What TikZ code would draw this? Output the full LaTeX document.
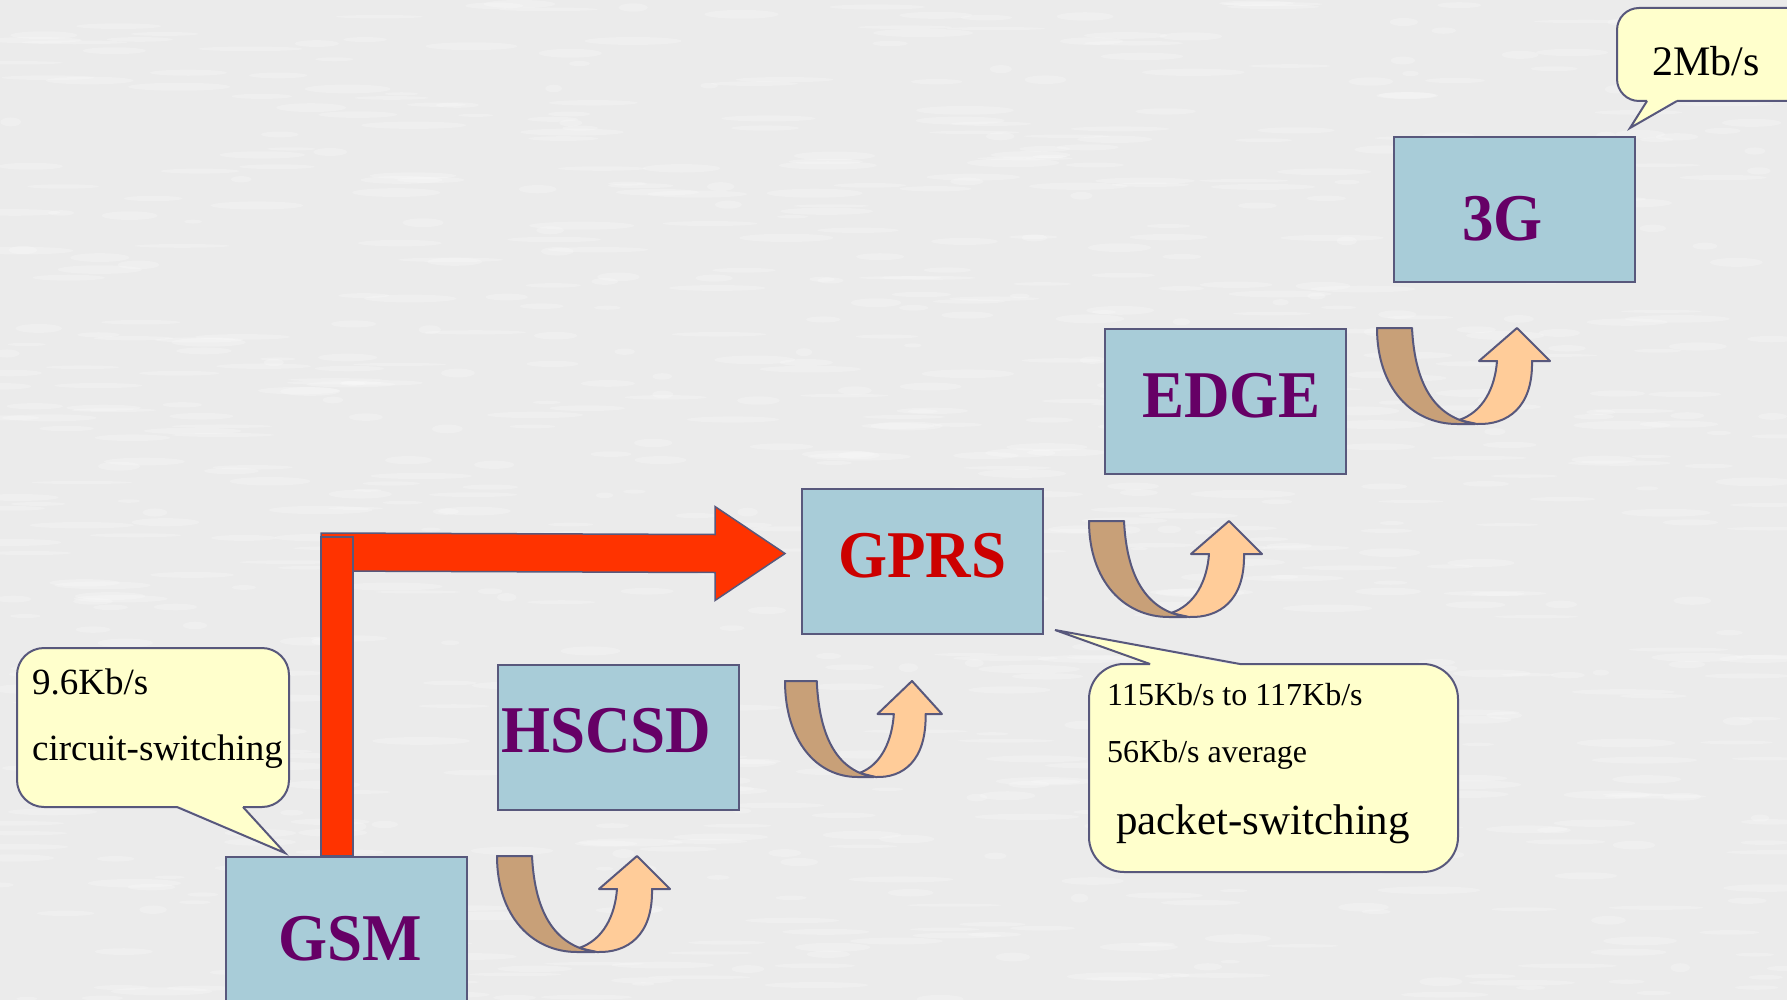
\documentclass[tikz,border=0pt]{standalone}
\usepackage{fontspec}
\usepackage{graphicx}
\setmainfont{Liberation Serif}
\usetikzlibrary{calc}

\definecolor{paper}{RGB}{235,235,235}
\definecolor{boxblue}{RGB}{168,204,216}
\definecolor{outline}{RGB}{88,88,124}
\definecolor{plum}{RGB}{102,0,102}
\definecolor{gprsred}{RGB}{204,0,0}
\definecolor{flame}{RGB}{255,51,0}
\definecolor{bandback}{RGB}{200,160,120}
\definecolor{bandfront}{RGB}{255,204,153}
\definecolor{notefill}{RGB}{255,255,204}

\newcommand{\stagefont}[1]{\scalebox{1}[1.06]{#1}}

\tikzset{
  stage/.style={draw=outline, line width=2pt, fill=boxblue, anchor=north west,
    inner sep=0pt, minimum width=241pt, minimum height=145pt},
  stagelabel/.style={anchor=base west, inner sep=0pt, text=plum,
    font=\fontsize{63}{70}\selectfont\bfseries},
  notebody/.style={fill=notefill},
  noteline/.style={draw=outline, line width=2pt},
  notetext/.style={anchor=base west, inner sep=0pt, text=black},
  bigarrow/.style={fill=flame, draw=outline, line width=1.5pt, line join=miter},
  uturn/.pic={
    % light front band with the arrow head
    \filldraw[fill=bandfront, draw=outline, line width=2pt, line join=round]
      (82,92) .. controls (106,84) and (118,60) .. (120,33) -- (102,33)
      -- (140,0) -- (173,33) -- (155,33)
      .. controls (156,80) and (130,97) .. (100,96) -- cycle;
    % darker back band
    \filldraw[fill=bandback, draw=outline, line width=2pt, line join=round]
      (0,0) -- (35,0) .. controls (38,60) and (60,90) .. (98,96) -- (80,96)
      .. controls (35,96) and (0,60) .. (0,0) -- cycle;
  }
}

\begin{document}
\begin{tikzpicture}[x=1pt,y=-1pt]
  \clip (0,0) rectangle (1787,1000);
  \fill[paper] (0,0) rectangle (1787,1000);
  % faint paper grain
  \pgfmathsetseed{42}
  \foreach \k in {1,...,900}{
    \pgfmathsetmacro{\xx}{rnd*1787}
    \pgfmathsetmacro{\yy}{rnd*1000}
    \pgfmathsetmacro{\rx}{8+rnd*45}
    \pgfmathsetmacro{\ry}{1.5+rnd*3}
    \fill[white, opacity=0.22] (\xx,\yy) ellipse [x radius=\rx, y radius=\ry];
  }

  % technology stages
  \node[stage, minimum height=190pt] (gsm) at (225,856) {};
  \node[stage] (hscsd) at (497,664) {};
  \node[stage] (gprs) at (801,488) {};
  \node[stage] (edge) at (1104,328) {};
  \node[stage] (g3) at (1393,136) {};

  \node[stagelabel] (gsmtext) at (278,960) {\stagefont{GSM}};
  \node[stagelabel] (hscsdtext) at (501,752) {\stagefont{HSCSD}};
  \node[stagelabel, text=gprsred] (gprstext) at (838,577) {\stagefont{GPRS}};
  \node[stagelabel] (edgetext) at (1142,417) {\stagefont{EDGE}};
  \node[stagelabel] (g3text) at (1462,241) {\stagefont{3G}};

  % step arrows between stages
  \pic at (497,856) {uturn};
  \pic[xscale=0.907] at (785,681) {uturn};
  \pic at (1089,521) {uturn};
  \pic at (1377,328) {uturn};

  % the jump from GSM straight to GPRS
  \coordinate (tip) at ($(gprs.west)+(-16,-8)$);
  \draw[bigarrow]
    ($(gsm.north west)+(96,-323)$) -- ($(tip)+(-70,-19)$) -- ($(tip)+(-70,-47)$)
    -- (tip) -- ($(tip)+(-70,47)$) -- ($(tip)+(-70,19)$)
    -- ($(gsm.north west)+(96,-285)$) -- cycle;
  \draw[bigarrow] ($(gsm.north west)+(96,-319)$) rectangle ($(gsm.north west)+(128,0)$);

  % callout: GSM
  \coordinate (gsmtag) at ($(gsm.north west)+(60,-3)$);
  \fill[notebody, rounded corners=27pt] (17,648) rectangle (289,807);
  \fill[notebody] (177,805) -- (gsmtag) -- (243,805) -- cycle;
  \draw[noteline, rounded corners=27pt]
    (243,807) -- (289,807) -- (289,648) -- (17,648) -- (17,807) -- (177,807);
  \draw[noteline, line join=miter] (177,807) -- (gsmtag) -- (243,807);
  \node[notetext, font=\fontsize{37}{40}\selectfont] (gsmrate) at (32,694) {9.6Kb/s};
  \node[notetext, font=\fontsize{37}{40}\selectfont] (gsmmode) at (32,760) {circuit-switching};

  % callout: GPRS
  \coordinate (gprstag) at ($(gprs.south east)+(11,-5)$);
  \fill[notebody, rounded corners=35pt] (1089,664) rectangle (1458,872);
  \fill[notebody] (1150,666) -- (gprstag) -- (1240,666) -- cycle;
  \draw[noteline, rounded corners=35pt]
    (1150,664) -- (1089,664) -- (1089,872) -- (1458,872) -- (1458,664) -- (1240,664);
  \draw[noteline, line join=miter] (1150,664) -- (gprstag) -- (1240,664);
  \node[notetext, font=\fontsize{32}{36}\selectfont] (gprsrate) at (1107,705) {115Kb/s to 117Kb/s};
  \node[notetext, font=\fontsize{32}{36}\selectfont] (gprsavg) at (1107,762) {56Kb/s average};
  \node[notetext, font=\fontsize{43}{46}\selectfont] (gprsmode) at (1116,834) {packet-switching};

  % callout: 3G
  \coordinate (g3tag) at ($(g3.north east)+(-6,-8)$);
  \fill[notebody, rounded corners=22pt] (1617,8) rectangle (1810,101);
  \fill[notebody] (1647,99) -- (g3tag) -- (1677,99) -- cycle;
  \draw[noteline, rounded corners=22pt]
    (1677,101) -- (1810,101) -- (1810,8) -- (1617,8) -- (1617,101) -- (1647,101);
  \draw[noteline, line join=miter] (1647,101) -- (g3tag) -- (1677,101);
  \node[notetext, font=\fontsize{42}{46}\selectfont] (g3rate) at (1652,76) {2Mb/s};
\end{tikzpicture}
\end{document}
